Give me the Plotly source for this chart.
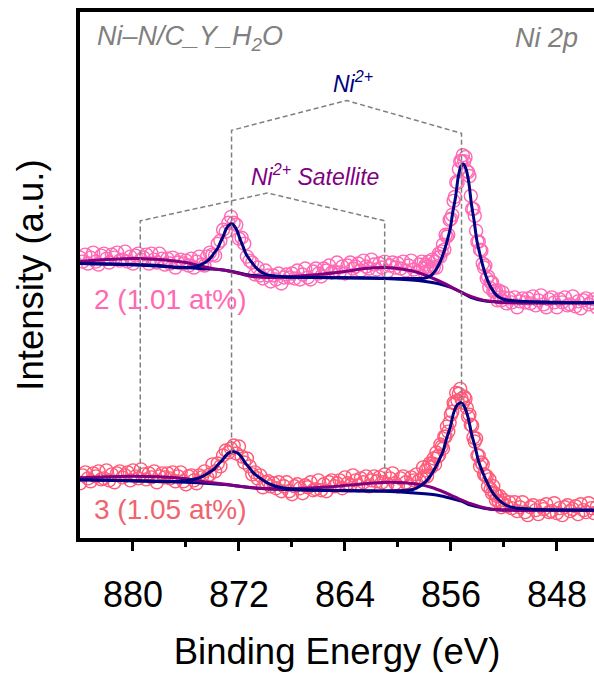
import numpy as np
import plotly.graph_objects as go

# ---------------- data ----------------
# energy grid of the measured points (eV): 0.2 eV steps, 0.1 eV across the Ni 2p3/2 peak
energy = np.round(np.concatenate([
    np.arange(884.0, 858.1, -0.2),
    np.arange(858.1, 851.95, -0.1),
    np.arange(851.8, 844.95, -0.2),
]), 2)

# sample 2 (1.01 at%) raw intensity (a.u.)
raw_2 = [
    282, 278, 285, 276, 282, 287, 278, 275, 284, 286, 281, 277, 285, 282, 287, 279, 280, 288, 278, 283,
    276, 284, 286, 280, 282, 285, 276, 286, 280, 277, 286, 281, 275, 281, 276, 282, 272, 277, 280, 276,
    279, 274, 281, 272, 278, 283, 275, 274, 283, 287, 285, 284, 296, 299, 310, 308, 317, 323, 317, 315,
    301, 302, 296, 283, 279, 277, 265, 272, 264, 261, 269, 264, 258, 264, 260, 266, 256, 262, 265, 262,
    266, 261, 269, 260, 265, 271, 262, 260, 268, 271, 266, 263, 271, 269, 274, 267, 268, 277, 267, 273,
    266, 274, 277, 271, 273, 276, 269, 279, 273, 271, 280, 275, 270, 276, 272, 278, 268, 274, 277, 272,
    276, 271, 278, 269, 274, 279, 270, 267, 275, 278,
    271, 267, 275, 273, 278, 270, 271, 280, 272, 278, 272, 282, 286, 283, 288, 295, 290, 305, 303, 305,
    320, 321, 325, 339, 343, 358, 357, 371, 379, 379, 385, 379, 383, 369, 368, 364, 344, 331, 331, 324,
    309, 298, 298, 290, 289, 276, 272, 274, 261, 263, 252, 257, 257, 248, 248, 249, 239, 249, 242, 239,
    247, 242,
    236, 241, 237, 242, 232, 238, 241, 237, 241, 236, 243, 234, 239, 244, 235, 232, 240, 242, 237, 232,
    240, 237, 242, 234, 235, 243, 233, 238, 231, 239, 241, 235, 237, 240, 232,
]

# sample 3 (1.05 at%) raw intensity (a.u.)
raw_3 = [
    55, 63, 66, 60, 57, 65, 62, 67, 59, 60, 68, 58, 64, 56, 65, 67, 61, 63, 66, 58,
    68, 62, 60, 69, 64, 59, 65, 61, 67, 56, 62, 65, 61, 65, 60, 66, 57, 62, 66, 57,
    54, 62, 63, 58, 55, 63, 61, 67, 61, 64, 74, 67, 75, 72, 83, 88, 86, 90, 93, 85,
    92, 82, 76, 80, 72, 64, 66, 60, 63, 51, 56, 57, 52, 55, 50, 56, 47, 52, 56, 47,
    44, 52, 54, 50, 45, 53, 51, 56, 48, 49, 58, 48, 54, 47, 56, 58, 52, 55, 58, 50,
    61, 55, 53, 63, 58, 53, 60, 56, 62, 52, 58, 62, 57, 61, 56, 64, 54, 60, 65, 55,
    52, 60, 62, 56, 52, 61, 58, 64, 58, 60,
    71, 62, 68, 62, 72, 75, 71, 75, 80, 74, 86, 82, 83, 94, 92, 90, 102, 102, 112, 107,
    116, 124, 127, 136, 135, 146, 138, 145, 150, 140, 136, 142, 140, 131, 122, 124, 114, 113, 101, 97,
    100, 83, 83, 72, 76, 74, 64, 63, 62, 52, 59, 49, 45, 52, 45, 38, 42, 37, 42, 31,
    35, 38,
    32, 36, 30, 36, 27, 31, 36, 26, 23, 31, 33, 28, 24, 32, 29, 34, 26, 27, 35, 25,
    30, 23, 31, 33, 27, 29, 32, 24, 34, 28, 26, 35, 30, 25, 31,
]

# fitted components, sample 2
bg2_x = [884, 879, 875, 873.5, 872.5, 871.5, 870, 866, 861, 858.5, 857, 856, 855.2, 854.5, 853.5, 852, 845]
bg2_y = [276, 274, 271, 270, 268, 265, 263, 262, 261, 259, 256, 252, 247, 242, 238.5, 237, 236.5]

sat2_x = [884, 882, 880, 879.5, 878, 876, 875, 874, 873, 872, 871, 869.5, 868, 866, 864, 862.5,
          861, 859.5, 858.5, 857.5, 856.5, 855.5, 854.5, 853.5, 852, 845]
sat2_y = [278, 280, 281, 281, 280, 277, 274, 271, 269, 266, 263, 262, 263, 265, 268, 271,
          272, 270, 267, 262, 256, 249, 243, 239, 237, 236.5]

ni2_x = [884, 878, 876.75, 875.7, 875.18, 874.65, 874.34, 874.02, 873.81, 873.6, 873.39, 873.18, 872.97,
         872.76, 872.55, 872.34, 872.13, 871.92, 871.71, 871.5, 871.29, 871.08, 870.76, 870.45, 869.92,
         869.4, 868.35, 866, 862, 860, 859.05, 858.05, 857.55, 857.05, 856.75, 856.45, 856.25, 856.05,
         855.85, 855.65, 855.45, 855.25, 855.05, 854.85, 854.65, 854.45, 854.25, 854.05, 853.85, 853.65,
         853.35, 853.05, 852.55, 852.05, 851.05, 848, 845]
ni2_y = [276, 274, 272, 272.2, 273.4, 276.3, 279.1, 283.9, 287.8, 291.5, 297.8, 303.6, 310.7,
         314.6, 316, 313.6, 308.7, 300.6, 293.8, 286.5, 281.8, 277.9, 272.6, 268.8, 264.9,
         263.7, 262.5, 262, 261.5, 261, 261, 261.3, 263.5, 271.6, 279.7, 291.2, 300.6, 311.3,
         328.5, 343, 362.9, 373.6, 376, 370.6, 357.4, 335.6, 319, 299.8, 287.6, 276.7,
         263.2, 253.6, 244, 240.2, 238.3, 237, 236.5]

# fitted components, sample 3
bg3_x = [884, 880, 876, 874, 872.5, 871, 869, 866, 861, 858.5, 857, 856, 855.2, 854.5, 853.5, 852.5, 845]
bg3_y = [58.5, 57.5, 56, 54.5, 53, 50.5, 49, 48, 47, 45, 43, 40, 37, 33, 30, 28.5, 28]

sat3_x = [884, 882, 880, 878, 876, 875, 874, 873, 872, 870.5, 869, 867, 865, 863, 861.5, 860.5,
          859.5, 858.5, 857.5, 856.5, 855.5, 854.5, 853.5, 852.5, 845]
sat3_y = [60.5, 61.5, 62, 61.5, 59.5, 57.5, 55.5, 54, 52, 50, 49.5, 50, 51.5, 54, 55.5, 56,
          55.5, 54, 51, 46, 40, 34.5, 30.5, 28.5, 28]

ni3_x = [884, 878, 876.75, 876.03, 875.3, 874.87, 874.43, 874.14, 873.85, 873.56, 873.27, 872.98, 872.69,
         872.4, 872.11, 871.82, 871.53, 871.24, 870.95, 870.66, 870.37, 869.93, 869.5, 868.77, 868.05,
         866, 862, 860.65, 859.3, 858.63, 857.95, 857.55, 857.14, 856.87, 856.6, 856.33, 856.06,
         855.79, 855.52, 855.25, 854.98, 854.71, 854.44, 854.17, 853.9, 853.63, 853.36, 852.95,
         852.55, 851.87, 851.2, 849.85, 845]
ni3_y = [58.5, 57, 56.9, 57.5, 59.3, 61.2, 64.3, 66.8, 69.6, 74.2, 78, 83.1, 86,
         86.8, 85.5, 81.6, 75.5, 71.1, 66, 62.7, 59.8, 56, 53.3, 50.5, 49.4,
         48, 47.2, 47.5, 48, 50, 56.3, 62.6, 71.7, 79, 87, 100, 111,
         126.1, 134, 136, 132, 121.6, 104.5, 91.4, 76.5, 66.9, 58.5, 47.8,
         40.5, 33.2, 30.5, 29, 28]

# peak / satellite positions used by the guide brackets (eV)
ni2p_pos = [872.56, 855.2]
sat_pos = [879.45, 861.0]

# ---------------- styling ----------------
FONT = "Liberation Sans, Arial, sans-serif"
NAVY = "#000080"
PURPLE = "#800080"
PINK2 = "#FF69B4"
PINK3 = "#FF5A78"
GRAY = "#808080"

fig = go.Figure()

for raw, col in [(raw_2, PINK2), (raw_3, PINK3)]:
    fig.add_trace(go.Scatter(
        x=energy, y=raw, mode="markers",
        marker=dict(symbol="circle-open", size=13, color=col, line=dict(width=1.4, color=col)),
        hoverinfo="skip"))

for xs, ys, col in [(bg2_x, bg2_y, NAVY), (sat2_x, sat2_y, PURPLE), (ni2_x, ni2_y, NAVY),
                    (bg3_x, bg3_y, NAVY), (sat3_x, sat3_y, PURPLE), (ni3_x, ni3_y, NAVY)]:
    fig.add_trace(go.Scatter(x=xs, y=ys, mode="lines",
                             line=dict(color=col, width=3, shape="spline", smoothing=0.8),
                             hoverinfo="skip"))

# guide brackets (dashed)
dash = dict(color=GRAY, width=1.5, dash="5px,3px")
ni_apex = (ni2p_pos[0] + ni2p_pos[1]) / 2
fig.add_trace(go.Scatter(x=[ni2p_pos[0], ni2p_pos[0], ni_apex, ni2p_pos[1], ni2p_pos[1]],
                         y=[85, 410, 440, 407, 128], mode="lines", line=dash, hoverinfo="skip"))
sat_apex = 869.85
fig.add_trace(go.Scatter(x=[sat_pos[0], sat_pos[0], sat_apex, sat_pos[1], sat_pos[1]],
                         y=[67, 319, 347, 319, 65], mode="lines", line=dash, hoverinfo="skip"))

ann = [
    dict(text="<i>Ni–N/C_Y_H<sub>2</sub>O</i>", x=0.029, y=0.951, xanchor="left", yanchor="middle",
         font=dict(size=27, color=GRAY)),
    dict(text="<i>Ni 2p</i>", x=0.973, y=0.951, xanchor="right", yanchor="middle",
         font=dict(size=27, color=GRAY)),
    dict(text="<i>Ni<sup>2+</sup></i>", x=0.531, y=0.866, xanchor="center", yanchor="middle",
         font=dict(size=23, color=NAVY)),
    dict(text="<i>Ni<sup>2+</sup> Satellite</i>", x=0.458, y=0.69, xanchor="center", yanchor="middle",
         font=dict(size=23, color=PURPLE)),
    dict(text="2 (1.01 at%)", x=0.023, y=0.454, xanchor="left", yanchor="middle",
         font=dict(size=28, color=PINK2)),
    dict(text="3 (1.05 at%)", x=0.023, y=0.055, xanchor="left", yanchor="middle",
         font=dict(size=28, color="#F0646E")),
]
for a in ann:
    a.update(xref="paper", yref="paper", showarrow=False)

fig.update_layout(
    width=594, height=679,
    margin=dict(l=80, r=0, t=12, b=141),
    paper_bgcolor="white", plot_bgcolor="white",
    showlegend=False,
    font=dict(family=FONT, color="black"),
    annotations=ann,
    xaxis=dict(range=[884, 845.2], tickvals=[880, 872, 864, 856, 848],
               ticks="outside", ticklen=9, tickwidth=3, tickcolor="black",
               minor=dict(tickvals=[876, 868, 860, 852], ticks="outside", ticklen=5,
                          tickwidth=3, tickcolor="black"),
               showline=True, linewidth=3.5, linecolor="black", mirror=True,
               showgrid=False, zeroline=False, ticklabelstandoff=13,
               tickfont=dict(size=36, color="black", family=FONT),
               title=dict(text="Binding Energy (eV)", font=dict(size=36.5, family=FONT), standoff=25)),
    yaxis=dict(range=[0, 529], showticklabels=False, ticks="",
               showline=True, linewidth=3.5, linecolor="black",
               showgrid=False, zeroline=False,
               title=dict(text="Intensity (a.u.)", font=dict(size=36.5, family=FONT), standoff=22)),
)

fig.write_html("out.html")
